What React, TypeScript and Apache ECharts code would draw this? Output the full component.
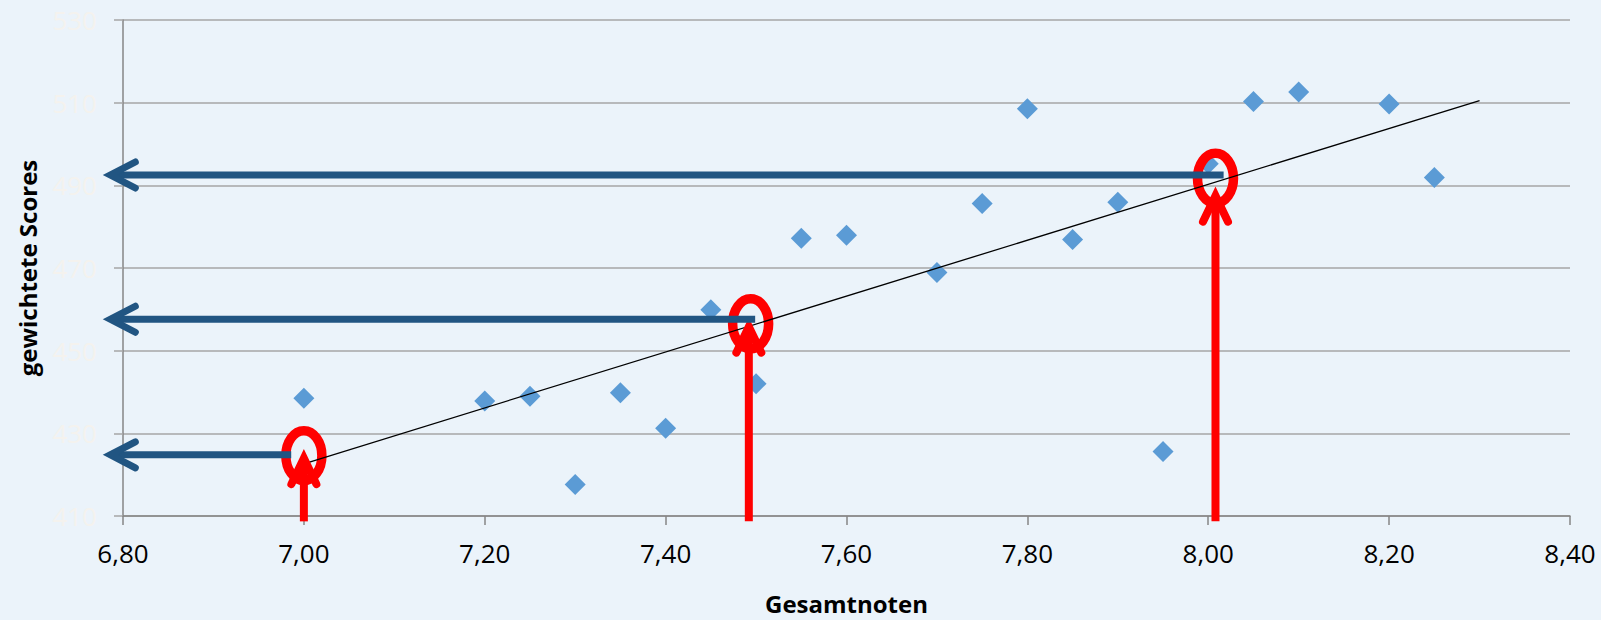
import React, { useEffect, useRef } from "react";
import * as echarts from "echarts";

// Scatter data: Gesamtnoten (x) and gewichtete Scores (y)
const GESAMTNOTEN = [7.0, 7.2, 7.25, 7.3, 7.35, 7.4, 7.45, 7.5, 7.55, 7.6, 7.7, 7.75, 7.8, 7.85, 7.9, 7.95, 8.0, 8.05, 8.1, 8.2, 8.25];
const SCORES = [438.5, 437.8, 439.0, 417.6, 439.8, 431.2, 459.9, 442.0, 477.2, 477.9, 468.9, 485.6, 508.5, 476.9, 485.9, 425.6, 495.2, 510.3, 512.6, 509.7, 491.9];

// Trend line range (linear regression of the scatter)
const TREND_RANGE = [7.0, 8.3];

// Axis ticks
const X_TICKS = [6.8, 7.0, 7.2, 7.4, 7.6, 7.8, 8.0, 8.2, 8.4];
const Y_TICKS = [410, 430, 450, 470, 490, 510, 530];

// Annotations: red arrows [x, yFrom, yTo]
const RED_ARROWS = [
  [7.0, 408.7, 424.0],
  [7.492, 408.7, 455.8],
  [8.008, 408.7, 487.5],
];
// Red ellipses [x, y] (centre)
const RED_CIRCLES = [
  [7.0, 424.6],
  [7.494, 456.5],
  [8.008, 491.7],
];
// Blue arrows [xFrom, xTo, y]
const BLUE_ARROWS = [
  [6.986, 6.786, 424.8],
  [7.499, 6.786, 457.6],
  [8.017, 6.786, 492.5],
];

function regression(xs: number[], ys: number[]) {
  const n = xs.length;
  const mx = xs.reduce((a, b) => a + b, 0) / n;
  const my = ys.reduce((a, b) => a + b, 0) / n;
  let sxy = 0;
  let sxx = 0;
  for (let i = 0; i < n; i++) {
    sxy += (xs[i] - mx) * (ys[i] - my);
    sxx += (xs[i] - mx) * (xs[i] - mx);
  }
  const b = sxy / sxx;
  return { a: my - b * mx, b };
}

export default function App() {
  const ref = useRef<HTMLDivElement>(null);

  useEffect(() => {
    if (!ref.current) return;
    const chart = echarts.init(ref.current, null, { renderer: "svg" });
    const { a, b } = regression(GESAMTNOTEN, SCORES);
    const trend = TREND_RANGE.map((x) => [x, a + b * x]);
    const font = "'Open Sans', sans-serif";

    const option: any = {
      animation: false,
      backgroundColor: "#EBF3FA",
      textStyle: { fontFamily: font },
      grid: { left: 123, right: 31, top: 20, bottom: 96, containLabel: false },
      xAxis: {
        type: "value",
        min: X_TICKS[0],
        max: X_TICKS[X_TICKS.length - 1],
        interval: 0.2,
        name: "Gesamtnoten",
        nameLocation: "middle",
        nameGap: 75,
        nameTextStyle: { fontSize: 24, fontWeight: "bold", color: "#000", fontFamily: font },
        axisLine: { show: true, lineStyle: { color: "#868686", width: 1.5 } },
        axisTick: { show: true, length: 9, lineStyle: { color: "#868686", width: 1.5 } },
        splitLine: { show: false },
        axisLabel: {
          fontSize: 26,
          color: "#000",
          margin: 24,
          fontFamily: font,
          showMinLabel: true,
          showMaxLabel: true,
          formatter: (v: number) => v.toFixed(2).replace(".", ","),
        },
      },
      yAxis: {
        type: "value",
        min: Y_TICKS[0],
        max: Y_TICKS[Y_TICKS.length - 1],
        interval: 20,
        name: "gewichtete Scores",
        nameLocation: "middle",
        nameRotate: 90,
        nameGap: 84,
        nameTextStyle: { fontSize: 24, fontWeight: "bold", color: "#000", fontFamily: font },
        axisLine: { show: true, lineStyle: { color: "#868686", width: 1.5 } },
        axisTick: { show: true, length: 9, lineStyle: { color: "#A6A6A6", width: 1.5 } },
        splitLine: { show: true, lineStyle: { color: "#A6A6A6", width: 1.5 } },
        axisLabel: { fontSize: 26, color: "#F4F2EE", margin: 26, fontFamily: font },
      },
      series: [
        {
          type: "scatter",
          data: GESAMTNOTEN.map((x, i) => [x, SCORES[i]]),
          symbol: "diamond",
          symbolSize: 21,
          itemStyle: { color: "#5B9BD5", opacity: 1 },
          z: 2,
        },
        {
          type: "custom",
          coordinateSystem: "cartesian2d",
          clip: false,
          z: 4,
          data: RED_CIRCLES,
          renderItem: (params: any, api: any) => {
            const p = api.coord([api.value(0), api.value(1)]);
            const rx = 18;
            const ry = 25;
            const d = `M ${p[0] - rx} ${p[1]} A ${rx} ${ry} 0 1 0 ${p[0] + rx} ${p[1]} A ${rx} ${ry} 0 1 0 ${p[0] - rx} ${p[1]} Z`;
            return {
              type: "path",
              shape: { pathData: d },
              style: { stroke: "#FF0000", lineWidth: 9.5, fill: null },
            };
          },
        },
        {
          type: "line",
          data: trend,
          symbol: "none",
          lineStyle: { color: "#000", width: 1.3 },
          z: 5,
        },
        {
          type: "custom",
          coordinateSystem: "cartesian2d",
          clip: false,
          z: 6,
          data: RED_ARROWS,
          renderItem: (params: any, api: any) => {
            const p0 = api.coord([api.value(0), api.value(1)]);
            const p1 = api.coord([api.value(0), api.value(2)]);
            return {
              type: "group",
              children: [
                {
                  type: "line",
                  shape: { x1: p0[0], y1: p0[1], x2: p1[0], y2: p1[1] + 6 },
                  style: { stroke: "#FF0000", lineWidth: 8, lineCap: "butt" },
                },
                {
                  type: "polyline",
                  shape: {
                    points: [
                      [p1[0] - 12.5, p1[1] + 26],
                      [p1[0], p1[1]],
                      [p1[0] + 12.5, p1[1] + 26],
                    ],
                  },
                  style: { stroke: "#FF0000", lineWidth: 8, fill: null, lineCap: "round", lineJoin: "miter" },
                },
              ],
            };
          },
        },
        {
          type: "custom",
          coordinateSystem: "cartesian2d",
          clip: false,
          z: 7,
          data: BLUE_ARROWS,
          renderItem: (params: any, api: any) => {
            const p0 = api.coord([api.value(0), api.value(2)]);
            const p1 = api.coord([api.value(1), api.value(2)]);
            return {
              type: "group",
              children: [
                {
                  type: "line",
                  shape: { x1: p0[0], y1: p0[1], x2: p1[0] + 5, y2: p1[1] },
                  style: { stroke: "#215582", lineWidth: 7, lineCap: "butt" },
                },
                {
                  type: "polyline",
                  shape: {
                    points: [
                      [p1[0] + 25, p1[1] - 13],
                      [p1[0], p1[1]],
                      [p1[0] + 25, p1[1] + 13],
                    ],
                  },
                  style: { stroke: "#215582", lineWidth: 7, fill: null, lineCap: "round", lineJoin: "miter" },
                },
              ],
            };
          },
        },
      ],
    };
    chart.setOption(option);
    return () => chart.dispose();
  }, []);

  return (
    <div
      ref={ref}
      style={{ position: "fixed", left: 0, top: 0, width: 1601, height: 620, background: "#EBF3FA" }}
    />
  );
}
